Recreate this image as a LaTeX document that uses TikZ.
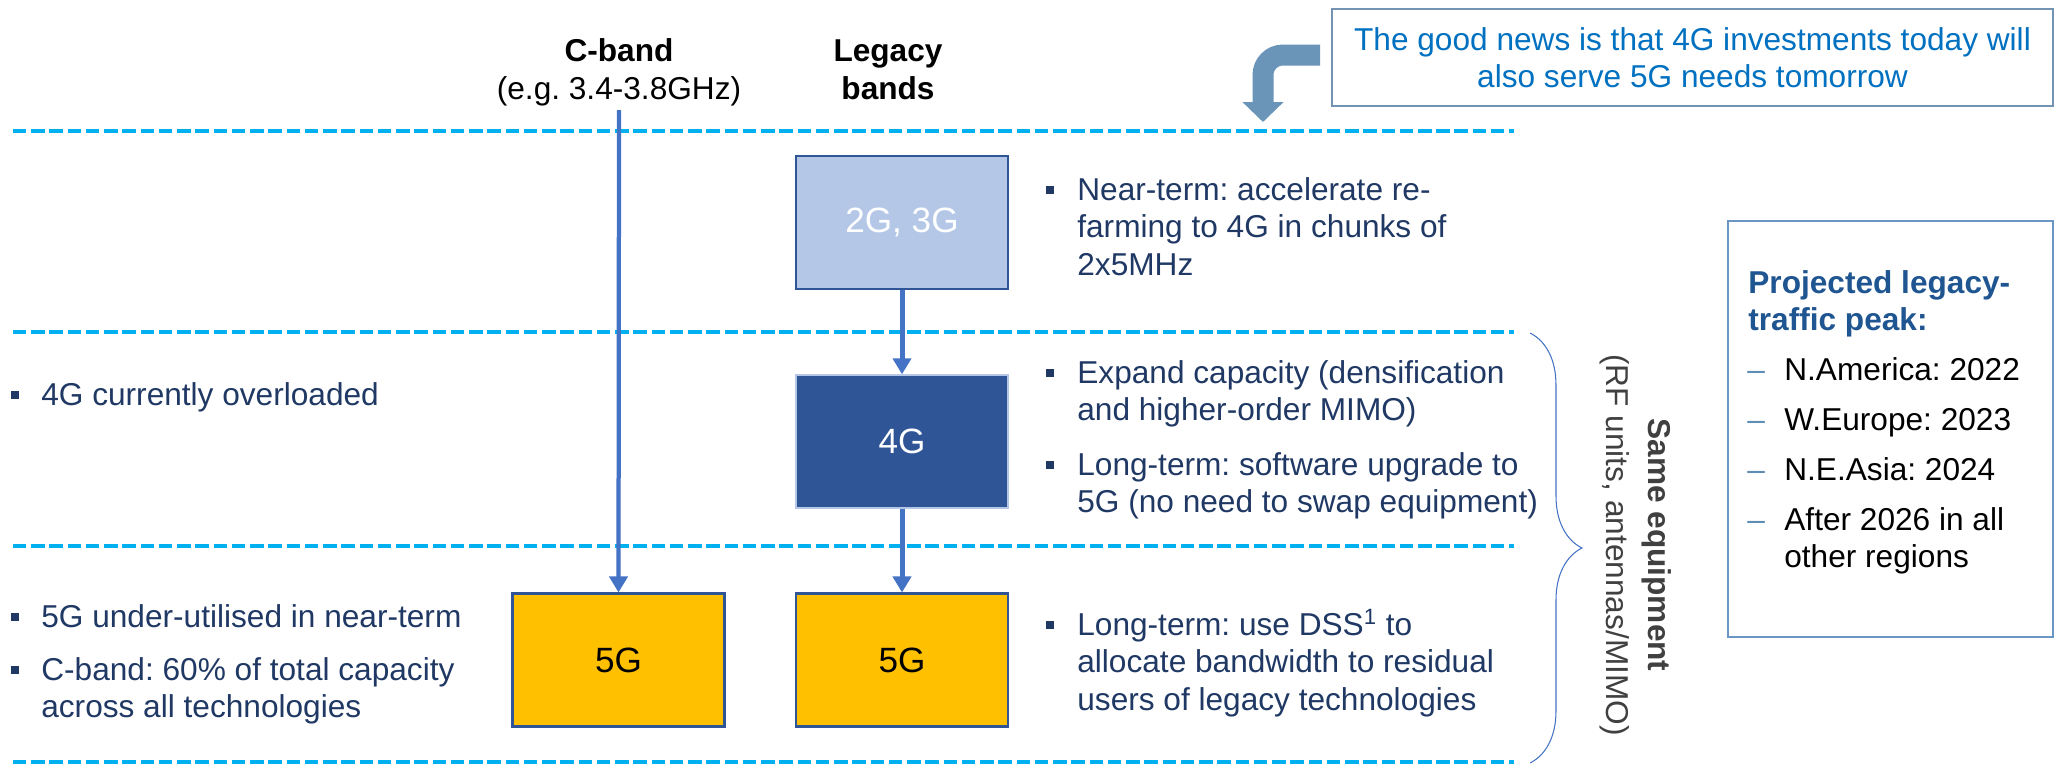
\documentclass[tikz,border=0pt]{standalone}
\usepackage{fontspec}
\setmainfont{Liberation Sans}
\usepackage{xcolor}
\usetikzlibrary{arrows.meta,decorations.pathreplacing,positioning}

\definecolor{bandcyan}{HTML}{00B0F0}
\definecolor{flowblue}{HTML}{4472C4}
\definecolor{navyfill}{HTML}{2F5597}
\definecolor{lightfill}{HTML}{B4C7E7}
\definecolor{goldfill}{HTML}{FFC000}
\definecolor{notenavy}{HTML}{1F3864}
\definecolor{newsblue}{HTML}{0070C0}
\definecolor{newsedge}{HTML}{7393B3}
\definecolor{bendblue}{HTML}{6A94B8}
\definecolor{peakedge}{HTML}{6A96C6}
\definecolor{peakdash}{HTML}{5F8CB4}
\definecolor{peaktitle}{HTML}{1F5590}
\definecolor{equipgray}{HTML}{404040}

\newcommand{\bodyfont}{\fontsize{18}{21.3}\selectfont}
\frenchspacing

\begin{document}
\begin{tikzpicture}[x=0.02cm,y=-0.02cm,
    every node/.style={inner sep=0pt,font=\bodyfont},
    band/.style={bandcyan,line width=0.08cm,dash pattern=on 0.27cm off 0.095cm},
    techbox/.style={draw=navyfill,line width=1.2pt,minimum width=4.24cm,
      minimum height=2.66cm,font=\fontsize{20}{24}\selectfont},
    flow/.style={flowblue,line width=0.1cm,-{Triangle[width=0.36cm,length=0.32cm]}},
    note/.style={notenavy,anchor=base west,align=left},
    sq/.style={fill=notenavy,minimum size=0.16cm},
    peakitem/.style={anchor=base west,align=left}]
  \useasboundingbox (0,0) rectangle (2056,765);
  % band separators
  \foreach \yy in {131,332,546,762}
    \draw[band] (13,\yy) -- (1514,\yy);
  % column heads (base = last line)
  \node[align=center,anchor=base,font=\bodyfont\bfseries] (chead) at (619,99)
    {C-band\\\mdseries(e.g. 3.4-3.8GHz)};
  \node[align=center,anchor=base,font=\bodyfont\bfseries] (lhead) at (888,99)
    {Legacy\\bands};
  % technology boxes
  \node[techbox,fill=lightfill,text=white] (g23) at (902,222.5) {2G, 3G};
  \node[techbox,fill=navyfill,draw=lightfill,line width=0.8pt,text=white] (g4) at (902,441.5) {4G};
  \node[techbox,fill=goldfill] (g5r) at (902,660) {5G};
  \node[techbox,fill=goldfill] (g5l) at (618.5,660) {5G};
  \coordinate (ctop) at (619,110);
  \draw[flow,line width=0.085cm] (ctop) -- (g5l.north);
  \draw[flow] (g23) -- (g4);
  \draw[flow] (g4) -- (g5r);
  % notes on the left
  \node[sq] (s4g) at (15,395) {};
  \node[note] (n4g) at (41,405) {4G currently overloaded};
  \node[sq] (s5g) at (15,617) {};
  \node[note] (n5g) at (41,627) {5G under-utilised in near-term};
  \node[sq] (scb) at (15,670) {};
  \node[note] (ncb) at (41,717.5) {C-band: 60\% of total capacity\\across all technologies};
  % notes on the right
  \node[sq] (s1) at (1050,190) {};
  \node[note] (n1) at (1077,275) {Near-term: accelerate re-\\farming to 4G in chunks of\\2x5MHz};
  \node[sq] (s2) at (1050,373) {};
  \node[note] (n2) at (1077,420.5) {Expand capacity (densification\\and higher-order MIMO)};
  \node[sq] (s3) at (1050,465) {};
  \node[note] (n3) at (1077,512.5) {Long-term: software upgrade to\\5G (no need to swap equipment)};
  \node[sq] (s4) at (1050,625) {};
  \node[note] (n4) at (1077,710) {Long-term: use DSS\textsuperscript{1} to\\allocate bandwidth to residual\\users of legacy technologies};
  % callout
  \node[draw=newsedge,line width=1.5pt,minimum width=14.42cm,minimum height=1.94cm,
    text=newsblue,align=center] (news) at (1692.5,57.5)
    {The good news is that 4G investments today will\\also serve 5G needs tomorrow};
  \coordinate (bendstart) at (1320,55);
  \coordinate (bendtip) at (1263,122);
  \draw[bendblue,line width=0.42cm,rounded corners=0.4cm,
    -{Triangle[width=0.8cm,length=0.4cm]}] (bendstart) -- (bendtip |- bendstart) -- (bendtip);
  % same equipment brace
  \draw[flowblue,line width=0.6pt,decorate,decoration={brace,amplitude=1.04cm}]
    (1530,333) -- (1530,763);
  \node[rotate=-90,align=center,text=equipgray] (equip) at (1636,545)
    {\textbf{Same equipment}\\[2.5pt](RF units, antennas/MIMO)};
  % legacy peak box
  \node[draw=peakedge,line width=1.5pt,minimum width=6.5cm,minimum height=8.32cm] (peak) at (1890.5,429) {};
  \node[peakitem,text=peaktitle,font=\bodyfont\bfseries] (ptitle) at (1748,330.5)
    {Projected legacy-\\traffic peak:};
  \foreach \yy/\txt [count=\i] in {380/{N.America: 2022},430/{W.Europe: 2023},
      480/{N.E.Asia: 2024}} {
    \node[anchor=base west,text=peakdash] (d\i) at (1747,\yy) {\textendash};
    \node[peakitem] (p\i) at (1784,\yy) {\txt};
  }
  \node[anchor=base west,text=peakdash] (d4) at (1747,530) {\textendash};
  \node[peakitem] (p4) at (1784,567.5) {After 2026 in all\\other regions};
\end{tikzpicture}
\end{document}
